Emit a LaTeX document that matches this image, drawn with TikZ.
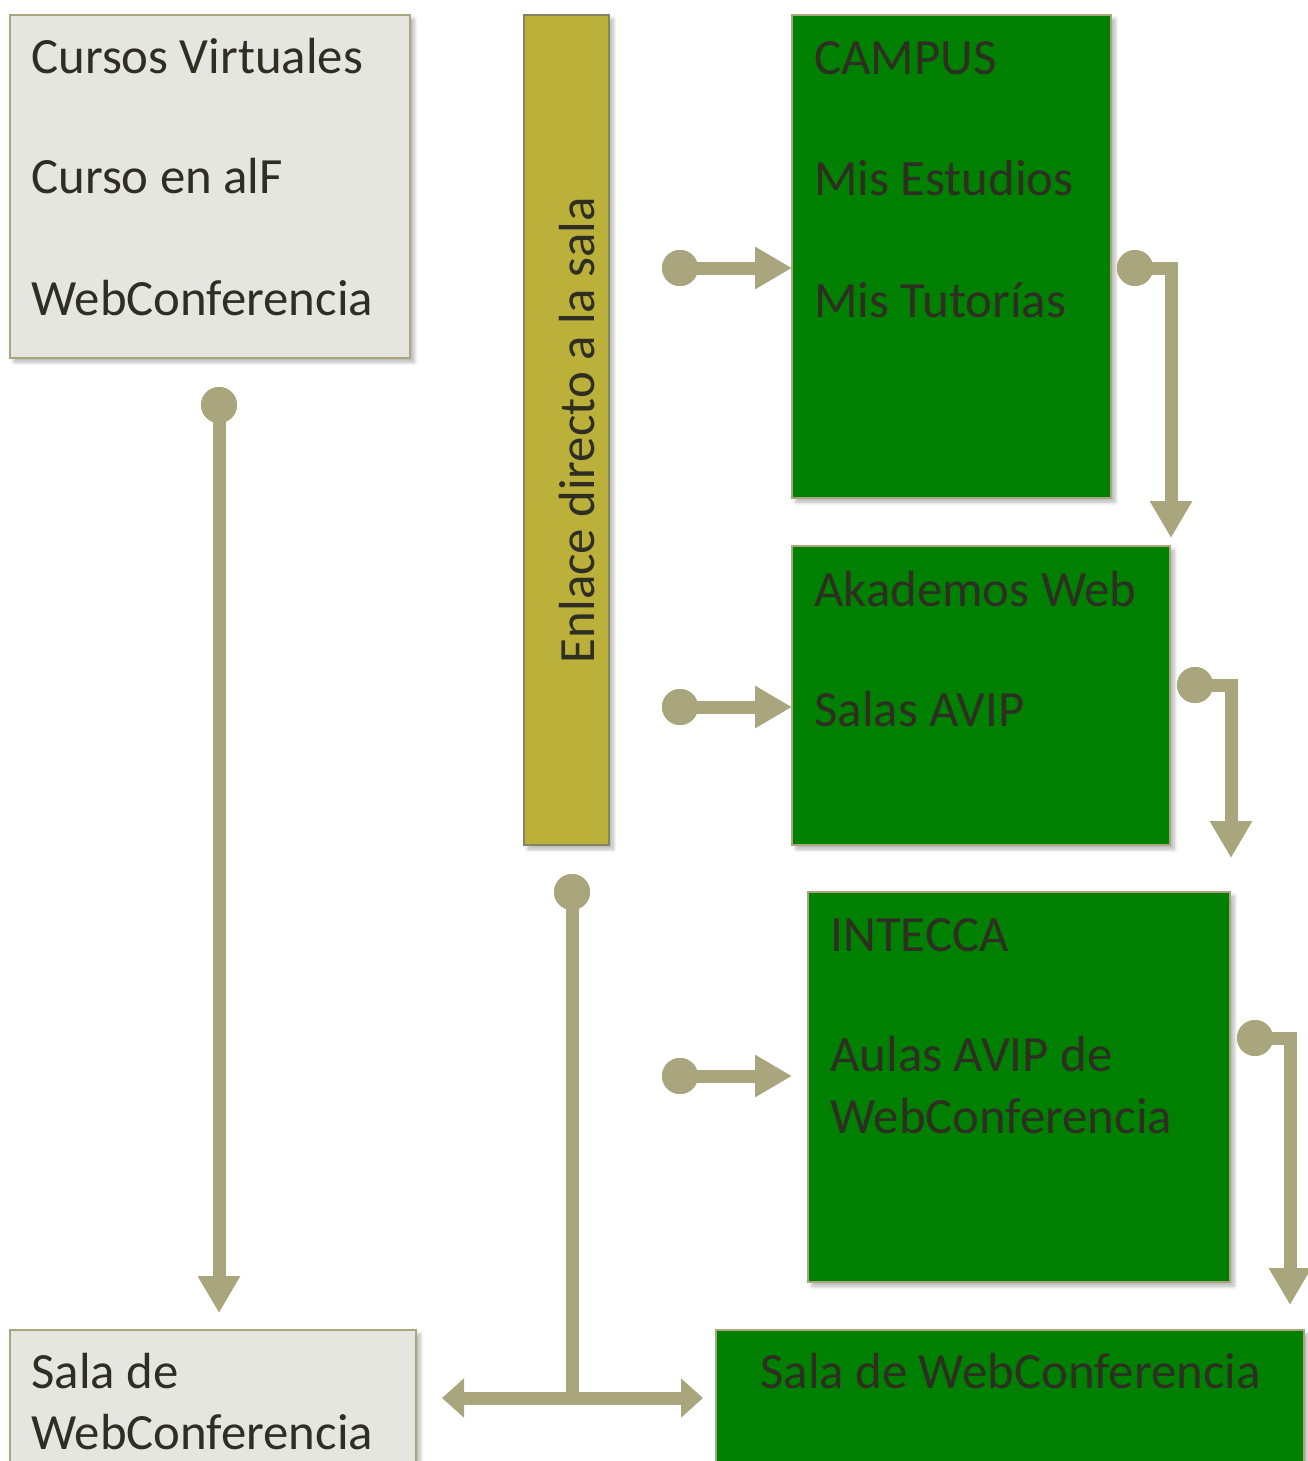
\documentclass[tikz,border=0pt]{standalone}
\usepackage{fontspec}
\setmainfont{Carlito}
\usetikzlibrary{shadows.blur,arrows.meta}
\definecolor{olivec}{HTML}{A9A57C}
\definecolor{greyfill}{HTML}{E6E6E1}
\definecolor{barfill}{HTML}{BAB03A}
\definecolor{boxgreen}{HTML}{008000}
\definecolor{txt}{HTML}{2E2E22}
\begin{document}
\begin{tikzpicture}[x=0.5pt,y=-0.5pt,
  boxbase/.style={anchor=north west, inner sep=0pt, outer sep=0pt, line width=1.2pt,
    blur shadow={shadow xshift=2pt, shadow yshift=-2pt, shadow blur steps=6, shadow opacity=30}},
  greybox/.style={boxbase, draw=olivec, fill=greyfill},
  greenbox/.style={boxbase, draw=olivec, fill=boxgreen},
  barbox/.style={boxbase, draw=olivec!80!black, fill=barfill},
  lbl/.style={anchor=base west, inner sep=0pt, text=txt, font=\fontsize{25.4}{30}\selectfont},
  dotn/.style={circle, fill=olivec, minimum size=18pt, inner sep=0pt},
  conn/.style={draw=olivec, line width=6.5pt, line join=miter, -{Triangle[width=20pt,length=18.5pt]}},
  dconn/.style={draw=olivec, line width=6.5pt, {Triangle[width=19pt,length=11pt]}-{Triangle[width=19pt,length=11pt]}},
  seg/.style={draw=olivec, line width=6.5pt}
]
\useasboundingbox (0,0) rectangle (1307,1461);

% boxes
\node[greybox, minimum width=200pt, minimum height=171.5pt] (cursos) at (10,15) {};
\node[barbox, minimum width=42.5pt, minimum height=415pt] (bar) at (524,15) {};
\node[greenbox, minimum width=159.5pt, minimum height=241.5pt] (campus) at (792,15) {};
\node[greenbox, minimum width=189pt, minimum height=149.5pt] (akademos) at (792,546) {};
\node[greenbox, minimum width=211pt, minimum height=195pt] (intecca) at (808,892) {};
\node[greenbox, minimum width=294pt, minimum height=80pt] (salaverde) at (716,1330) {};
\node[greybox, minimum width=203pt, minimum height=80pt] (salagris) at (10,1330) {};

% texts
\node[lbl] (t1) at (31,74) {Cursos Virtuales};
\node[lbl] (t2) at (31,193) {Curso en alF};
\node[lbl] (t3) at (31,315) {WebConferencia};
\node[lbl, anchor=center, rotate=90] (tbar) at (577,430) {Enlace directo a la sala};
\node[lbl] (t4) at (814,75) {CAMPUS};
\node[lbl] (t5) at (814,195) {Mis Estudios};
\node[lbl] (t6) at (814,317) {Mis Tutorías};
\node[lbl] (t7) at (814,606) {Akademos Web};
\node[lbl] (t8) at (814,726) {Salas AVIP};
\node[lbl] (t9) at (830,951) {INTECCA};
\node[lbl] (t10) at (830,1071) {Aulas AVIP de};
\node[lbl] (t11) at (830,1133) {WebConferencia};
\node[lbl] (t12) at (760,1388) {Sala de WebConferencia};
\node[lbl] (t13) at (31,1388) {Sala de};
\node[lbl] (t14) at (31,1449) {WebConferencia};

% dots
\node[dotn] (d1) at (680,268) {};
\node[dotn] (d2) at (680,707) {};
\node[dotn] (d3) at (680,1076) {};
\node[dotn] (r1) at (1135,268) {};
\node[dotn] (r2) at (1195,685) {};
\node[dotn] (r3) at (1255,1038) {};
\node[dotn] (dl) at (219,405) {};
\node[dotn] (dm) at (572,892) {};

\coordinate (e1) at (1171,538);
\coordinate (e2) at (1231,858);
\coordinate (e3) at (1290,1305);
\coordinate (e4) at (792,1076);
\coordinate (el) at (219,1313);
\coordinate (jm) at (572,1398);
\coordinate (hl) at (442,1398);
\coordinate (hr) at (703,1398);

% connectors
\draw[conn] (d1.center) -- (d1 -| campus.west);
\draw[conn] (d2.center) -- (d2 -| akademos.west);
\draw[conn] (d3.center) -- (e4);
\draw[conn] (r1.center) -| (e1);
\draw[conn] (r2.center) -| (e2);
\draw[conn] (r3.center) -| (e3);
\draw[conn] (dl.center) -- (el);
\draw[seg] (dm.center) -- (jm);
\draw[dconn] (hl) -- (hr);

% redraw dots on top
\node[dotn] at (d1) {};
\node[dotn] at (d2) {};
\node[dotn] at (d3) {};
\node[dotn] at (r1) {};
\node[dotn] at (r2) {};
\node[dotn] at (r3) {};
\node[dotn] at (dl) {};
\node[dotn] at (dm) {};
\end{tikzpicture}
\end{document}
